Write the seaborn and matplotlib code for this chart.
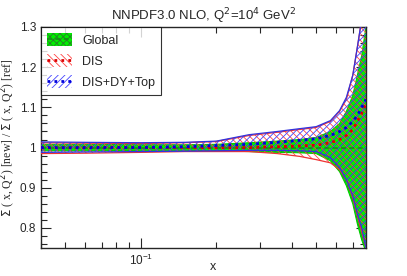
import numpy as np
import pandas as pd
import matplotlib
matplotlib.use("Agg")
import matplotlib.pyplot as plt
import seaborn as sns
from matplotlib.patches import Patch
from matplotlib.lines import Line2D
from matplotlib.ticker import MultipleLocator, LogLocator, NullFormatter

# ----------------------------
# Data
# ----------------------------
x = [0.04, 0.06, 0.1, 0.15, 0.2, 0.27, 0.35, 0.43, 0.5, 0.57, 0.62, 0.66, 0.7, 0.73, 0.76, 0.79]

global_cv = [1.0] * 16
global_up = [1.008, 1.008, 1.007, 1.007, 1.008, 1.012, 1.016, 1.02, 1.025, 1.04, 1.06, 1.09, 1.13, 1.18, 1.23, 1.3]
global_lo = [0.992, 0.992, 0.993, 0.993, 0.992, 0.99, 0.988, 0.987, 0.985, 0.967, 0.94, 0.905, 0.86, 0.81, 0.77, 0.74]

dis_cv = [1.0, 1.0, 1.0, 1.0, 1.0, 1.0, 1.002, 1.004, 1.006, 1.012, 1.02, 1.03, 1.045, 1.065, 1.085, 1.11]
dis_up = [1.012, 1.011, 1.01, 1.012, 1.015, 1.03, 1.038, 1.045, 1.05, 1.065, 1.09, 1.12, 1.18, 1.25, 1.32, 1.4]
dis_lo = [0.985, 0.986, 0.988, 0.99, 0.99, 0.99, 0.985, 0.978, 0.97, 0.962, 0.945, 0.92, 0.875, 0.83, 0.79, 0.75]

dy_cv = [1.0, 1.0, 1.0, 1.002, 1.005, 1.008, 1.013, 1.018, 1.022, 1.03, 1.04, 1.05, 1.065, 1.08, 1.1, 1.12]
dy_up = [1.014, 1.013, 1.012, 1.013, 1.016, 1.032, 1.04, 1.047, 1.052, 1.067, 1.092, 1.125, 1.18, 1.25, 1.32, 1.4]
dy_lo = [0.988, 0.989, 0.99, 0.991, 0.992, 0.993, 0.993, 0.992, 0.99, 0.975, 0.95, 0.92, 0.88, 0.835, 0.8, 0.75]

labels = ["Global", "DIS", "DIS+DY+Top"]

df = pd.DataFrame({"x": x, "Global": global_cv, "DIS": dis_cv, "DIS+DY+Top": dy_cv})

sns.set_style("ticks")
plt.rcParams["font.family"] = ["Liberation Sans", "DejaVu Sans"]
plt.rcParams["hatch.linewidth"] = 0.6

fig = plt.figure(figsize=(4.07, 2.76), dpi=100)
ax = fig.add_axes([0.1007, 0.1014, 0.7985, 0.8008])

# ----------------------------
# Global band
# ----------------------------
ax.fill_between(x, global_lo, global_up, facecolor="#00ee00", edgecolor="#2a7a2a",
                hatch="xxxxx", linewidth=0, zorder=1)
ax.plot(x, global_up, color="#00cc00", lw=0.8, zorder=2)
ax.plot(x, global_lo, color="#00cc00", lw=0.8, zorder=2)

# ----------------------------
# DIS band (red)
# ----------------------------
ax.fill_between(x, dis_lo, dis_up, facecolor="none", edgecolor="#ff4444",
                hatch="\\\\\\\\\\", linewidth=0, zorder=3)
ax.plot(x, dis_up, color="#ee3333", lw=0.9, zorder=4)
ax.plot(x, dis_lo, color="#ee3333", lw=0.9, zorder=4)

# ----------------------------
# DIS+DY+Top band (blue)
# ----------------------------
ax.fill_between(x, dy_lo, dy_up, facecolor="none", edgecolor="#4444ff",
                hatch="/////", linewidth=0, zorder=5)
ax.plot(x, dy_up, color="#3333dd", lw=0.9, zorder=6)
ax.plot(x, dy_lo, color="#3333dd", lw=0.9, zorder=6)

# ----------------------------
# Central values
# ----------------------------
sns.lineplot(data=df, x="x", y="Global", ax=ax, color="#1a8a1a", lw=1.2,
             linestyle=(0, (3, 2)), zorder=7)
sns.lineplot(data=df, x="x", y="DIS", ax=ax, color="#dd0000", lw=2.0,
             linestyle=(0, (1, 1.5)), zorder=8)
sns.lineplot(data=df, x="x", y="DIS+DY+Top", ax=ax, color="#0000dd", lw=2.0,
             linestyle=(0, (1, 1.5)), zorder=9)

ax.set_xscale("log")
ax.set_xlim(0.04, 0.79)
ax.set_ylim(0.75, 1.3)

ax.set_yticks([0.8, 0.9, 1.0, 1.1, 1.2, 1.3])
ax.set_yticklabels(["0.8", "0.9", "1", "1.1", "1.2", "1.3"])
ax.yaxis.set_minor_locator(MultipleLocator(0.02))
ax.xaxis.set_major_locator(LogLocator(base=10))
ax.xaxis.set_minor_locator(LogLocator(base=10, subs=np.arange(2, 10)))
ax.xaxis.set_minor_formatter(NullFormatter())
ax.tick_params(which="both", direction="in", top=True, right=True, labelsize=8.5, width=0.8)
ax.tick_params(which="major", length=7)
ax.tick_params(which="minor", length=4)
for s in ax.spines.values():
    s.set_linewidth(1.0)

ax.set_title("NNPDF3.0 NLO, Q$^2$=10$^4$ GeV$^2$", fontsize=9.5, pad=5)
ax.set_xlabel("x", fontsize=9)
ax.xaxis.set_label_coords(0.53, -0.06)
ax.set_ylabel("$\\Sigma$ ( x, Q$^2$) [new] / $\\Sigma$ ( x, Q$^2$) [ref]",
              fontsize=8.5, family=["Liberation Serif", "DejaVu Serif"])
ax.yaxis.set_label_coords(-0.07, 0.5)

# ----------------------------
# Legend
# ----------------------------
h_glob = (Patch(facecolor="#00ee00", edgecolor="#2a7a2a", hatch="xxxxx", lw=0),
          Line2D([], [], color="#1a8a1a", lw=1.2, linestyle=(0, (3, 2))))
h_dis = (Patch(facecolor="white", edgecolor="#ff4444", hatch="\\\\\\\\\\", lw=0),
         Line2D([], [], color="#dd0000", lw=2.0, linestyle=(0, (1, 1.5))))
h_dy = (Patch(facecolor="white", edgecolor="#4444ff", hatch="/////", lw=0),
        Line2D([], [], color="#0000dd", lw=2.0, linestyle=(0, (1, 1.5))))
leg = ax.legend([h_glob, h_dis, h_dy], labels, loc="upper left", fontsize=9,
                frameon=True, fancybox=False, edgecolor="black", borderaxespad=0,
                handlelength=2.0, handleheight=1.2, labelspacing=0.6, borderpad=0.5)
leg.get_frame().set_linewidth(0.8)
leg.set_zorder(20)

plt.savefig("out.png", dpi=100)
plt.close()
